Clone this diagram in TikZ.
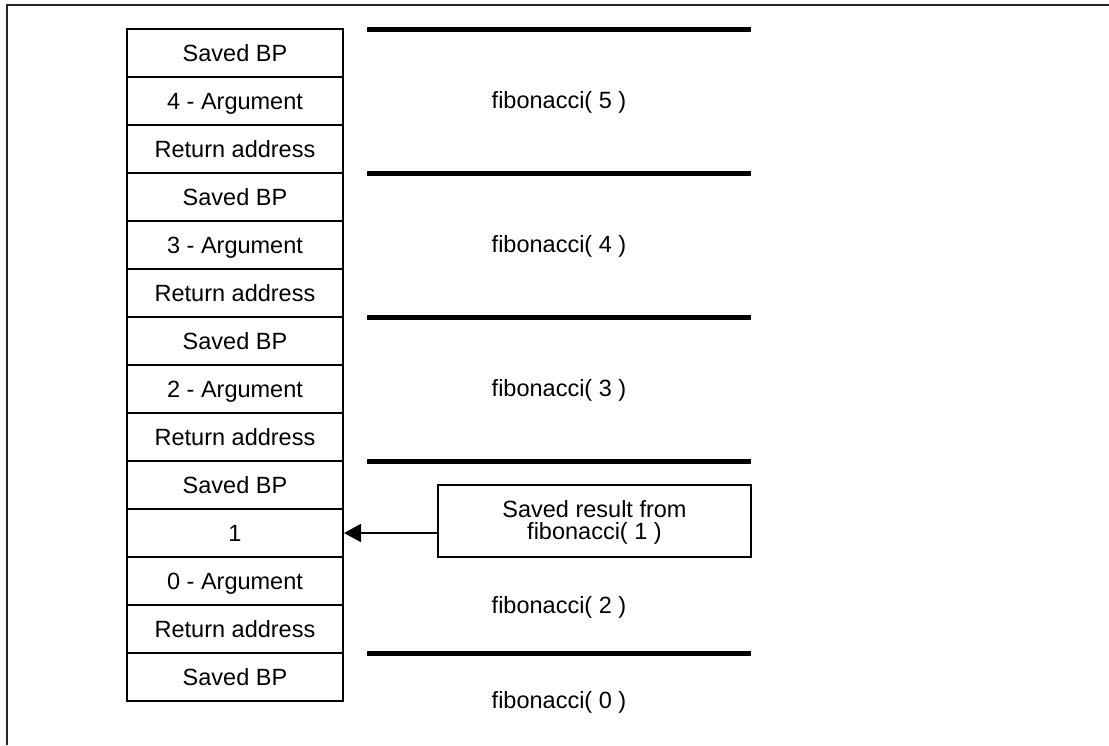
\documentclass[tikz,border=0pt]{standalone}
\usepackage{fontspec}
\setmainfont{Liberation Sans}
\usetikzlibrary{arrows.meta}
\begin{document}
\begin{tikzpicture}[x=1pt, y=-1pt,
  txt/.style={font=\fontsize{23.5}{22}\selectfont},
  cell/.style={txt, draw, line width=2pt, rectangle, minimum width=216pt, minimum height=48pt,
    inner sep=0pt, text height=21pt, text depth=4.2pt},
  frameline/.style={draw, line width=1.3pt, black!85},
  divider/.style={line width=5pt},
  label/.style={txt, inner sep=0pt, anchor=base},
  notebox/.style={draw, line width=2pt, rectangle, minimum width=313pt, minimum height=72pt,
    inner sep=0pt},
  notetext/.style={txt, inner sep=0pt, align=center},
  pointer/.style={line width=2pt, -{Triangle[length=17pt, width=18pt]}}]
  \useasboundingbox (0,0) rectangle (1109,745);
  % outer frame (top and left edges)
  \coordinate (fTL) at (7,5);
  \coordinate (fTR) at (1109,5);
  \coordinate (fBL) at (7,745);
  \draw[frameline] (fTR) -- (fTL) -- (fBL);
  % stack cells, top to bottom
  \foreach \i/\t in {0/Saved BP, 1/4 - Argument, 2/Return address,
                     3/Saved BP, 4/3 - Argument, 5/Return address,
                     6/Saved BP, 7/2 - Argument, 8/Return address,
                     9/Saved BP, 10/1, 11/0 - Argument, 12/Return address,
                     13/Saved BP}
    \node[cell] (c\i) at (235, 53+48*\i) {\t};
  % frame separators
  \foreach \n/\y in {a/29, b/173, c/317, d/461, e/653} {
    \coordinate (s\n l) at (367,\y);
    \coordinate (s\n r) at (751,\y);
    \draw[divider] (s\n l) -- (s\n r);
  }
  % frame labels
  \node[label] (f5) at (559,108) {fibonacci( 5 )};
  \node[label] (f4) at (559,252) {fibonacci( 4 )};
  \node[label] (f3) at (559,396) {fibonacci( 3 )};
  \node[label] (f2) at (559,613) {fibonacci( 2 )};
  \node[label] (f0) at (559,708) {fibonacci( 0 )};
  % saved result note
  \node[notebox] (note) at (594.5,521) {};
  \node[notetext] (notetxt) at (594.5,522.5) {Saved result from\\fibonacci( 1 )};
  \draw[pointer] (note.west |- c10.east) -- (c10.east);
\end{tikzpicture}
\end{document}
